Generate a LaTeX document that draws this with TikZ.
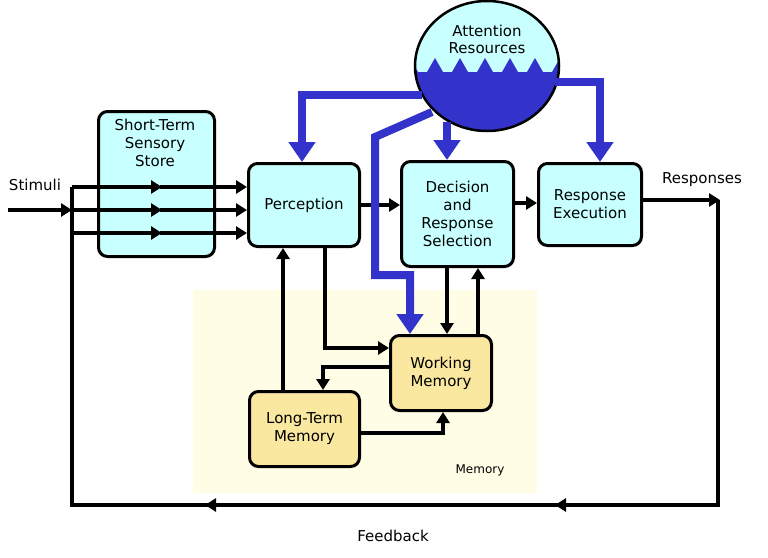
\documentclass[tikz,border=0pt]{standalone}
\usepackage{fontspec}
\setmainfont{DejaVu Sans}
\usetikzlibrary{arrows.meta,shapes.geometric}
\definecolor{boxcyan}{HTML}{C8FFFF}
\definecolor{boxyellow}{HTML}{FAE8A0}
\definecolor{memback}{HTML}{FFFDE6}
\definecolor{attblue}{HTML}{3333CC}
\tikzset{
	unit/.style={draw,line width=3pt,rounded corners=9pt,fill=boxcyan,inner sep=0pt,align=center,font=\fontsize{15}{18}\selectfont},
	memunit/.style={unit,fill=boxyellow},
	lbl/.style={font=\fontsize{15}{18}\selectfont},
	flow/.style={line width=3.5pt,-{Triangle[length=11pt,width=13pt]}},
	att/.style={attblue,line width=8pt,-{Triangle[length=20pt,width=26pt]}}
}
\begin{document}
\begin{tikzpicture}[x=1pt,y=-1pt]
	\useasboundingbox (0,0) rectangle (768,557);
	% memory area
	\fill[memback] (193,290) rectangle (537,493);
	\node[font=\fontsize{12}{14}\selectfont] (memlbl) at (480,470) {Memory};
	% boxes
	\node[unit,minimum width=116pt,minimum height=145pt,anchor=north west] (sss) at (97,110) {};
	\node[lbl,align=center,anchor=north] (ssstxt) at (155,116) {Short-Term\\Sensory\\Store};
	\node[unit,minimum width=111pt,minimum height=83pt,anchor=north west] (perc) at (247,162) {Perception};
	\node[unit,minimum width=112pt,minimum height=105pt,anchor=north west] (dec) at (400,160) {Decision\\and\\Response\\Selection};
	\node[unit,minimum width=103pt,minimum height=82pt,anchor=north west] (resp) at (537,162) {Response\\Execution};
	\node[memunit,minimum width=101pt,minimum height=75pt,anchor=north west] (wm) at (389,334) {Working\\Memory};
	\node[memunit,minimum width=110pt,minimum height=75pt,anchor=north west] (ltm) at (248,390) {Long-Term\\Memory};
	% attention resources
	\node[ellipse,fill=boxcyan,minimum width=146pt,minimum height=132pt] (att) at (487,66) {};
	\begin{scope}
		\clip (att.center) ellipse (72pt and 65pt);
		\fill[attblue] (410,58) \foreach \k in {0,...,5}{ -- ++(8,14) -- ++(9,0) -- ++(8,-14)} -- (560,58) -- (560,140) -- (410,140) -- cycle;
	\end{scope}
	\draw[line width=2.5pt] (att.center) ellipse (72pt and 65pt);
	\node[align=center,font=\fontsize{15}{17}\selectfont] (atttxt) at (487,39) {Attention\\Resources};
	% stimuli and sensory channels
	\node[lbl] (stim) at (35,185) {Stimuli};
	\coordinate (sin) at (8,210);
	\coordinate (split) at (72,210);
	\draw[flow] (sin) -- (split);
	\draw[line width=3.5pt] (72,187) -- (72,505) -- (718,505) -- (718,200);
	\foreach \y in {187,210,233}{
		\draw[flow] (72,\y) -- (162,\y);
		\draw[flow] (160,\y) -- (perc.west |- 0,\y);
	}
	\draw[flow] (718,505) -- (555,505);
	\draw[flow] (560,505) -- (205,505);
	\node[lbl] (fb) at (393,536) {Feedback};
	% main stages
	\draw[flow] (perc.east |- 0,205) -- (dec.west |- 0,205);
	\draw[flow] (dec.east |- 0,203) -- (resp.west |- 0,203);
	\draw[flow] (resp.east |- 0,200) -- (720,200);
	\node[lbl] (resplbl) at (702,180) {Responses};
	% memory links
	\draw[flow] (ltm.north -| 283,0) -- (perc.south -| 283,0);
	\draw[flow] (perc.south -| 325,0) -- (325,348) -- (wm.west |- 0,348);
	\draw[flow] (dec.south -| 447,0) -- (wm.north -| 447,0);
	\draw[flow] (wm.north -| 478,0) -- (dec.south -| 478,0);
	\draw[flow] (wm.west |- 0,367) -- (323,367) -- (ltm.north -| 323,0);
	\draw[flow] (ltm.east |- 0,433) -- (443,433) -- (wm.south -| 443,0);
	% attention allocation
	\draw[att] (att.west |- 0,95) ++(8,0) -- (302,95) -- (perc.north -| 302,0);
	\draw[att] (447,122) -- (dec.north -| 447,0);
	\draw[att] (555,82) -- (600,82) -- (resp.north -| 600,0);
	\draw[att] (432,112) -- (375,137) -- (375,275) -- (410,275) -- (wm.north -| 410,0);
\end{tikzpicture}
\end{document}
